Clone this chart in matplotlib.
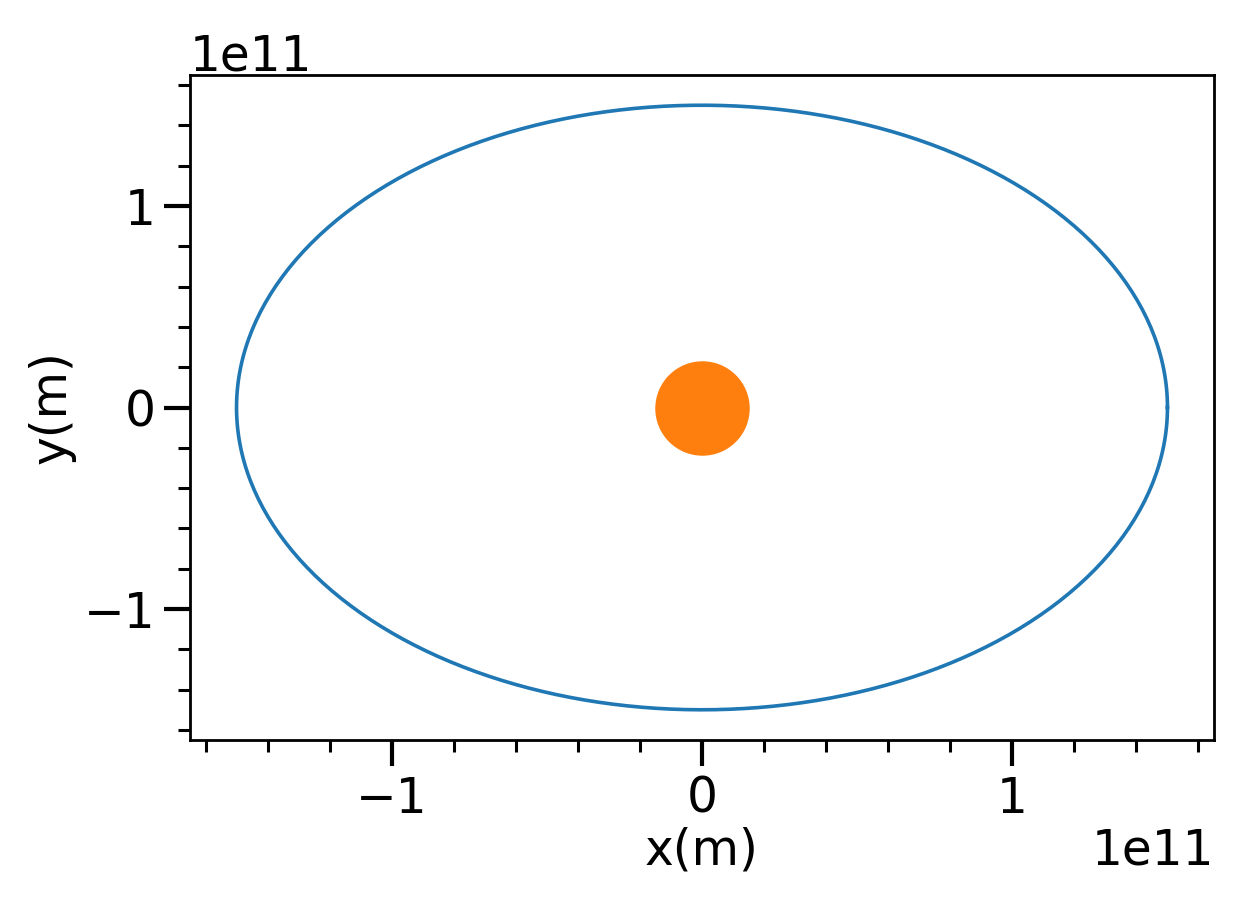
import numpy as np
import matplotlib
matplotlib.use("Agg")
import matplotlib.pyplot as plt
from matplotlib.ticker import MultipleLocator

# Orbit data: circular orbit radius (m)
orbit_radius = 1.5e11
n_points = 400
theta = np.linspace(0, 2 * np.pi, n_points)
orbit_x = orbit_radius * np.cos(theta)
orbit_y = orbit_radius * np.sin(theta)
sun_x = [0.0]
sun_y = [0.0]

fig = plt.figure(figsize=(12.45, 9.1), dpi=100)
ax = fig.add_axes([190 / 1245, 1 - 740 / 910, (1214 - 190) / 1245, (740 - 75) / 910])

ax.plot(orbit_x, orbit_y, color="#1f77b4", lw=2.6)
ax.plot(sun_x, sun_y, "o", color="#ff7f0e", markersize=67)

ax.set_xlabel("x(m)", fontsize=35, labelpad=3)
ax.set_ylabel("y(m)", fontsize=35, labelpad=6)

ax.xaxis.set_major_locator(MultipleLocator(1e11))
ax.yaxis.set_major_locator(MultipleLocator(1e11))
ax.xaxis.set_minor_locator(MultipleLocator(0.2e11))
ax.yaxis.set_minor_locator(MultipleLocator(0.2e11))
ax.tick_params(which="major", length=19, width=3.0, labelsize=35, pad=6)
ax.tick_params(which="minor", length=8.5, width=2.2)
for s in ax.spines.values():
    s.set_linewidth(2.0)
ax.xaxis.get_offset_text().set_fontsize(35)
ax.yaxis.get_offset_text().set_fontsize(35)

fig.savefig("out.png", dpi=100)
